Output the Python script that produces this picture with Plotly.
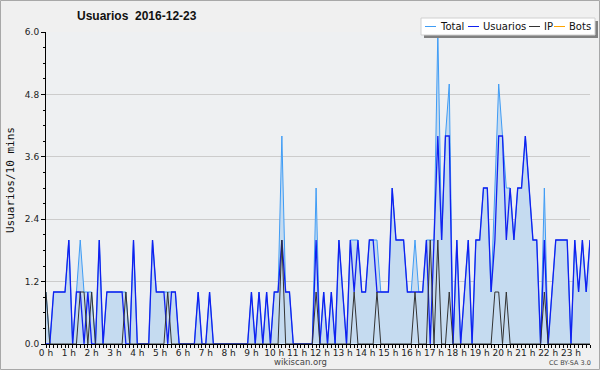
import plotly.graph_objects as go

# ---- data (10-minute slots, 0h00 .. 23h50) ----
usuarios = [0,0,1,1,1,1,2,0,1,1,0,1,
            0,0,2,0,1,1,1,1,1,0,0,2,
            0,0,0,0,2,1,1,1,0,1,1,0,
            0,0,0,0,1,0,0,1,0,0,0,0,
            0,0,0,0,0,0,1,0,1,0,1,0,
            1,1,2,1,1,0,0,0,0,0,0,2,
            0,1,0,1,0,2,1,0,2,1,2,1,
            1,2,2,1,1,1,1,3,2,2,2,1,
            1,1,1,1,2,0,2,4,2,4,4,0,
            2,0,1,2,0,2,2,3,3,1,2,4,
            4,2,3,2,3,3,4,3,2,2,0,2,
            0,1,2,2,2,2,0,2,1,2,1,2]
ip = [1,0,0,0,0,0,0,0,0,1,1,0,
      1,0,0,0,0,0,0,0,0,1,0,0,
      0,0,0,0,0,0,0,0,1,0,0,0,
      0,0,0,0,0,0,0,0,0,0,0,0,
      0,0,0,0,0,0,0,0,0,0,0,0,
      0,0,2,0,0,0,0,0,0,0,0,1,
      0,0,0,0,0,0,0,0,0,1,0,0,
      0,0,0,1,0,0,0,0,0,0,0,0,
      0,1,0,0,0,2,0,2,0,0,1,0,
      0,0,0,0,0,0,0,0,0,0,1,1,
      0,1,0,0,0,0,0,0,0,0,0,1,
      0,0,0,0,0,0,0,0,0,0,0,0]
total = [1,0,1,1,1,1,2,0,1,2,1,1,
         1,0,2,0,1,1,1,1,1,1,0,2,
         0,0,0,0,2,1,1,1,1,1,1,0,
         0,0,0,0,1,0,0,1,0,0,0,0,
         0,0,0,0,0,0,1,0,1,0,1,0,
         1,1,4,1,1,0,0,0,0,0,0,3,
         0,1,0,1,0,2,1,0,2,2,2,1,
         1,2,2,2,1,1,1,3,2,2,2,1,
         1,2,1,1,2,2,2,6,2,4,5,0,
         2,0,1,2,0,2,2,3,3,1,3,5,
         4,3,3,2,3,3,4,3,2,2,0,3,
         0,1,2,2,2,2,0,2,1,2,1,2]

hours = list(range(24))
hour_labels = [f"{h} h" for h in hours]
y_ticks = [0.0, 1.2, 2.4, 3.6, 4.8, 6.0]
y_labels = ["0.0", "1.2", "2.4", "3.6", "4.8", "6.0"]
series_names = ["Total", "Usuarios", "IP", "Bots"]
series_colors = ["#3f9cf5", "#1020f0", "#333333", "#ffa500"]

x = [i / 6 for i in range(len(total))]

W, H = 600, 370
ML, MR, MT, MB = 46, 10, 32, 26
PW, PH = W - ML - MR, H - MT - MB


def px(xp):
    return (xp - ML) / PW


def py(yp):
    return (H - MB - yp) / PH


fig = go.Figure()
fig.add_trace(go.Scatter(x=x, y=total, mode="lines", name="Total",
                         line=dict(color=series_colors[0], width=1),
                         fill="tozeroy", fillcolor="#c5dbf0"))
fig.add_trace(go.Scatter(x=x, y=usuarios, mode="lines", name="Usuarios",
                         line=dict(color=series_colors[1], width=1.3)))
fig.add_trace(go.Scatter(x=x, y=ip, mode="lines", name="IP",
                         line=dict(color=series_colors[2], width=1)))

tickfont = dict(family="DejaVu Sans", size=9, color="#222")

fig.update_layout(
    width=W, height=H,
    margin=dict(l=ML, r=MR, t=MT, b=MB),
    paper_bgcolor="#f0f0f0", plot_bgcolor="#eef0f2",
    showlegend=False,
    xaxis=dict(range=[0, x[-1]], tickvals=hours, ticktext=hour_labels,
               ticks="outside", ticklen=3, tickcolor="#000", tickfont=tickfont,
               ticklabelstandoff=-3,
               showline=True, linecolor="#000", linewidth=1,
               showgrid=False, zeroline=False,
               minor=dict(tick0=0, dtick=1/6, ticks="outside", ticklen=3,
                          tickcolor="#000", showgrid=False)),
    yaxis=dict(range=[0, 6], tickvals=y_ticks, ticktext=y_labels,
               ticks="outside", ticklen=4, tickcolor="#000", tickfont=tickfont,
               showline=True, linecolor="#000", linewidth=1,
               showgrid=True, gridcolor="#cccccc", gridwidth=1, zeroline=False,
               minor=dict(tick0=0, dtick=0.3, ticks="outside", ticklen=2,
                          tickcolor="#000", showgrid=False)),
)

shapes = []
annotations = []

# outer border
shapes.append(dict(type="rect", xref="paper", yref="paper",
                   x0=px(0.5), x1=px(W - 0.5), y0=py(0.5), y1=py(H - 0.5),
                   line=dict(color="#a8a8a8", width=1), fillcolor="rgba(0,0,0,0)",
                   layer="above"))

# title
annotations.append(dict(text="<b>Usuarios  2016-12-23</b>", xref="paper", yref="paper",
                        x=px(75), y=py(16), xanchor="left", yanchor="middle",
                        showarrow=False,
                        font=dict(family="Liberation Sans", size=12, color="#111")))
# y title
annotations.append(dict(text="Usuarios/10 mins", xref="paper", yref="paper",
                        x=px(10), y=py(180), xanchor="center", yanchor="middle",
                        textangle=-90, showarrow=False,
                        font=dict(family="DejaVu Sans Mono", size=11, color="#111")))
# footer
annotations.append(dict(text="wikiscan.org", xref="paper", yref="paper",
                        x=px(300), y=py(362), xanchor="center", yanchor="middle",
                        showarrow=False,
                        font=dict(family="DejaVu Sans", size=8.5, color="#444")))
annotations.append(dict(text="CC BY-SA 3.0", xref="paper", yref="paper",
                        x=px(593), y=py(363), xanchor="right", yanchor="middle",
                        showarrow=False,
                        font=dict(family="DejaVu Sans", size=6.5, color="#444")))

# legend box (shadow + box)
bx0, bx1, by0, by1 = 421, 595, 18, 35
shapes.append(dict(type="rect", xref="paper", yref="paper",
                   x0=px(bx0 + 3), x1=px(bx1 + 3), y0=py(by1 + 3), y1=py(by0 + 3),
                   line=dict(width=0), fillcolor="#808080", layer="above"))
shapes.append(dict(type="rect", xref="paper", yref="paper",
                   x0=px(bx0), x1=px(bx1), y0=py(by1), y1=py(by0),
                   line=dict(color="#d0d0d0", width=1), fillcolor="#ffffff", layer="above"))

leg_font = dict(family="DejaVu Sans", size=10, color="#111")
text_w = {"Total": 28, "Usuarios": 46, "IP": 10, "Bots": 24}
cx = 425
ly = (by0 + by1) / 2
for name, col in zip(series_names, series_colors):
    shapes.append(dict(type="line", xref="paper", yref="paper",
                       x0=px(cx), x1=px(cx + 11), y0=py(ly), y1=py(ly),
                       line=dict(color=col, width=1), layer="above"))
    annotations.append(dict(text=name, xref="paper", yref="paper",
                            x=px(cx + 13), y=py(ly), xanchor="left", yanchor="middle",
                            showarrow=False, font=leg_font))
    cx += 13 + text_w[name] + 2

fig.update_layout(shapes=shapes, annotations=annotations)

fig.write_html("out.html", config={"displayModeBar": False},
               post_script="document.body.style.margin='0';document.body.style.padding='0';document.body.style.overflow='hidden';")
